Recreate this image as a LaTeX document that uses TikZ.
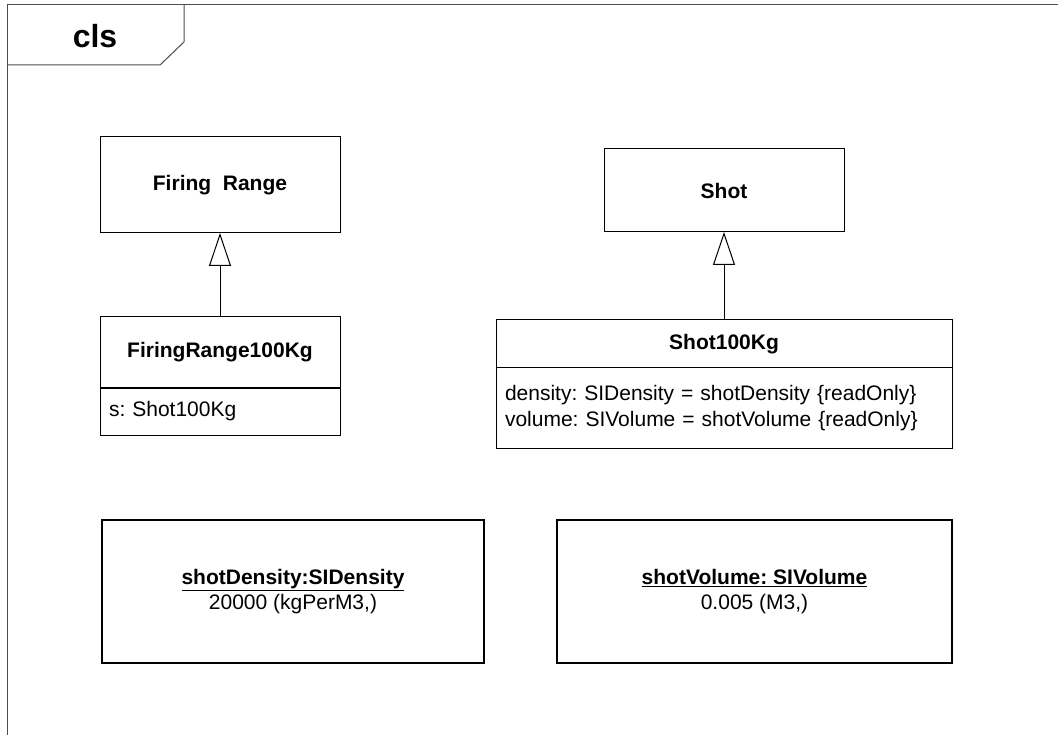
\documentclass[tikz,border=0pt]{standalone}
\usepackage{fontspec}
\setmainfont{Liberation Sans}
\frenchspacing
\usetikzlibrary{arrows.meta,positioning}
\tikzset{
    framestyle/.style = {
        draw=black!70,
        line width=1pt
    },
    classnode/.style = {
        rectangle,
        draw=black,
        fill=white,
        line width=1pt,
        align=center,
        font=\fontsize{21}{26}\selectfont\bfseries,
        inner sep=0pt,
        outer sep=0pt
    },
    attrnode/.style = {
        classnode,
        align=left,
        font=\fontsize{21}{26}\selectfont,
        inner xsep=9pt
    },
    objectnode/.style = {
        classnode,
        line width=1.4pt,
        font=\fontsize{21}{25}\selectfont
    },
    generalization/.style = {
        line width=1pt,
        -{Triangle[open, length=33pt, width=22pt]}
    }
}

\begin{document}
\begin{tikzpicture}[x=1pt, y=-1pt]
    \useasboundingbox (0,0) rectangle (1058,735);
    % frame with its name tab
    \draw [framestyle] (7,735) -- (7,5) -- (1058,5);
    \draw [framestyle] (7,65) -- (160,65) -- (184,42) -- (184,5);
    \node [font=\fontsize{32}{32}\selectfont\bfseries] (clsname) at (95,36) {cls};

    % classes
    \node [classnode, minimum width=240, minimum height=96] (firing) at (220,185) {Firing~~Range};
    \node [classnode, minimum width=240, minimum height=71, anchor=north] (fr100) at (220,317) {FiringRange100Kg};
    \node [attrnode, text width=222, minimum height=47, below=0pt of fr100] (fr100attr) {s: Shot100Kg};

    \node [classnode, minimum width=240, minimum height=83] (shot) at (724,190.5) {Shot};
    \node [classnode, minimum width=456, minimum height=48, anchor=north] (shot100) at (724,320) {Shot100Kg};
    \node [attrnode, text width=438, minimum height=80, below=0pt of shot100] (shot100attr)
        {density: SIDensity = shotDensity \{readOnly\}\\volume: SIVolume = shotVolume \{readOnly\}};

    \draw [generalization] (fr100.north) -- (firing.south);
    \draw [generalization] (shot100.north) -- (shot.south);

    % instances
    \node [objectnode, minimum width=382, minimum height=143] (density) at (293,591.5)
        {\underline{\textbf{shotDensity:SIDensity}}\\20000 (kgPerM3,)};
    \node [objectnode, minimum width=395, minimum height=143] (volume) at (754.5,591.5)
        {\underline{\textbf{shotVolume: SIVolume}}\\0.005 (M3,)};
\end{tikzpicture}
\end{document}
